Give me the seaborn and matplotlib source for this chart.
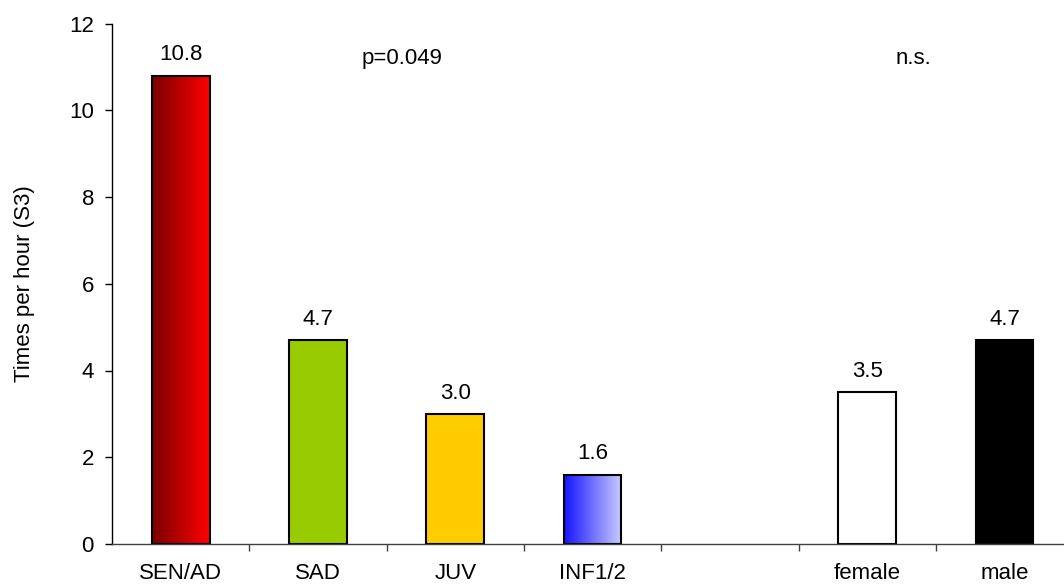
import numpy as np
import pandas as pd
import seaborn as sns
import matplotlib.pyplot as plt
from matplotlib.colors import LinearSegmentedColormap

# values
groups = ["SEN/AD", "SAD", "JUV", "INF1/2", "female", "male"]
times_per_hour = [10.8, 4.7, 3.0, 1.6, 3.5, 4.7]
order = ["SEN/AD", "SAD", "JUV", "INF1/2", " ", "female", "male"]
bar_colors = ["#c00000", "#99cc00", "#ffcc00", "#8080ff", "#ffffff", "#000000"]
gradients = {"SEN/AD": ["#780000", "#ff0000"], "INF1/2": ["#1414ff", "#ccccff"]}
notes = ["p=0.049", "n.s."]
note_x = [1.61, 5.34]
note_y = 11.06
yticks = [0, 2, 4, 6, 8, 10, 12]

sns.set_theme(style="white")
plt.rcParams["font.family"] = ["Liberation Sans", "DejaVu Sans"]
plt.rcParams["text.color"] = "black"
plt.rcParams["axes.labelcolor"] = "black"
plt.rcParams["xtick.color"] = "black"
plt.rcParams["ytick.color"] = "black"

df = pd.DataFrame({"group": groups, "value": times_per_hour})

fig = plt.figure(figsize=(10.64, 5.85), dpi=100)
ax = fig.add_axes([0.1053, 0.0701, 0.9033, 0.8897])

sns.barplot(data=df, x="group", y="value", order=order, hue="group",
            hue_order=groups, palette=bar_colors, saturation=1, width=0.42,
            edgecolor="black", linewidth=1.5, legend=False, ax=ax)

for cont, name, val in zip(ax.containers, groups, times_per_hour):
    bar = cont[0]
    if name in gradients:
        cmap = LinearSegmentedColormap.from_list(name, gradients[name])
        x0, w, h = bar.get_x(), bar.get_width(), bar.get_height()
        im = ax.imshow(np.linspace(0, 1, 256).reshape(1, -1), cmap=cmap,
                       extent=[x0, x0 + w, 0, h], aspect="auto",
                       zorder=bar.get_zorder() - 0.1)
        im.set_clip_path(bar)
        bar.set_facecolor("none")
    ax.annotate(f"{val:.1f}", xy=(bar.get_x() + bar.get_width() / 2, val),
                xytext=(0, 11), textcoords="offset points",
                ha="center", va="baseline", fontsize=16, color="black")

for txt, xn in zip(notes, note_x):
    ax.text(xn, note_y, txt, ha="center", va="baseline", fontsize=16,
            color="black")

ax.set_xlim(-0.5, len(order) - 0.5)
ax.set_ylim(0, 12)
ax.set_yticks(yticks)
ax.set_xlabel("")
ax.set_ylabel("Times per hour (S3)", fontsize=16, color="black")
ax.yaxis.set_label_coords(-0.0805, 0.5)

ax.set_xticks(range(len(order)))
ax.set_xticklabels(order)
ax.set_xticks(np.arange(0.5, len(order), 1), minor=True)
ax.tick_params(axis="x", which="major", length=0, pad=13.5, labelsize=16,
               labelcolor="black")
ax.tick_params(axis="x", which="minor", length=5, width=1, color="#404040",
               direction="out", bottom=True)
ax.tick_params(axis="y", length=5, width=1, color="black", direction="out",
               pad=8, labelsize=16, left=True, labelcolor="black")

sns.despine(ax=ax)
ax.spines["left"].set_color("black")
ax.spines["left"].set_linewidth(1)
ax.spines["bottom"].set_color("#404040")
ax.spines["bottom"].set_linewidth(1)

fig.savefig("out.png", dpi=100)
